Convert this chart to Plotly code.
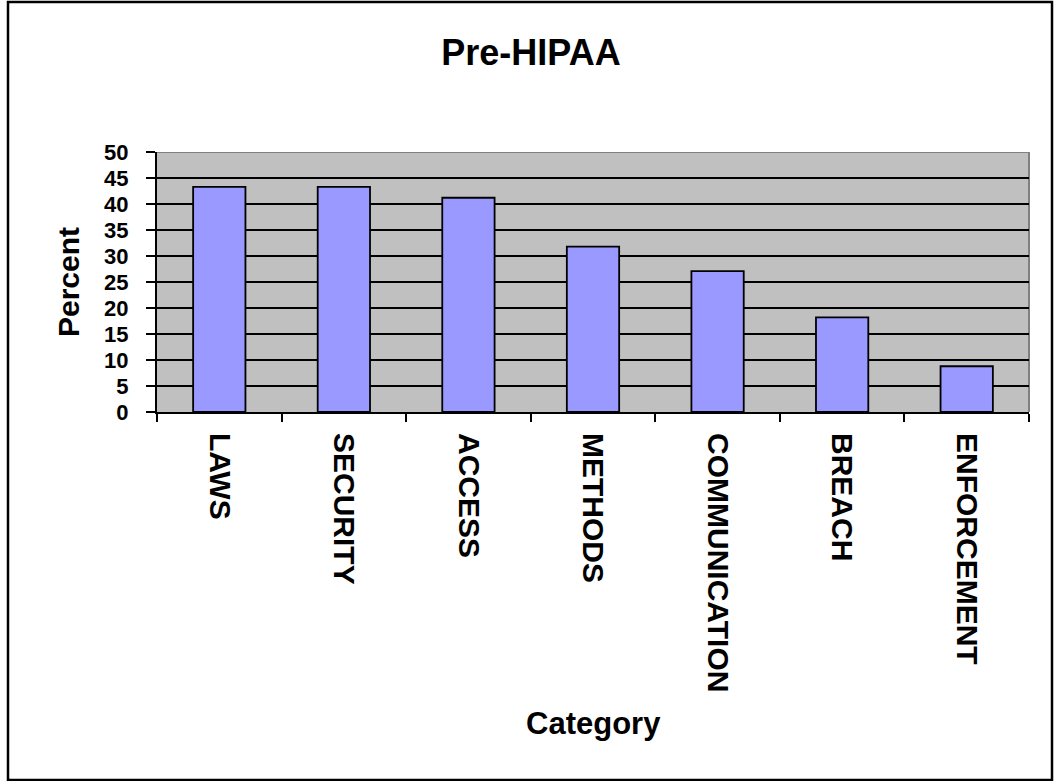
import plotly.graph_objects as go

# Survey results, Pre-HIPAA
categories = ["LAWS", "SECURITY", "ACCESS", "METHODS",
              "COMMUNICATION", "BREACH", "ENFORCEMENT"]
percent = [43.3, 43.3, 41.2, 31.8, 27.1, 18.2, 8.8]
y_ticks = [0, 5, 10, 15, 20, 25, 30, 35, 40, 45, 50]

W, H = 1054, 781
# plot-area edges in pixels
L, R, T, B = 157, 1029, 152, 412
PW, PH = R - L, B - T


def px_x(x):
    return (x - L) / PW


def px_y(y):
    return (B - y) / PH


FONT = "Liberation Sans, Arial, sans-serif"

fig = go.Figure(
    go.Bar(
        x=categories,
        y=percent,
        marker=dict(color="#9999FF", line=dict(color="black", width=1.8)),
        showlegend=False,
    )
)

fig.update_layout(
    width=W,
    height=H,
    margin=dict(l=L, r=W - R, t=T, b=H - B, pad=0),
    paper_bgcolor="white",
    plot_bgcolor="#C0C0C0",
    bargap=0.58,
    title=dict(
        text="Pre-HIPAA",
        x=531 / W, xref="container", xanchor="center",
        y=1 - 52 / H, yref="container", yanchor="middle",
        font=dict(family=FONT, size=36, color="black", weight="bold"),
    ),
    xaxis=dict(
        type="category",
        showline=True, linecolor="black", linewidth=2,
        ticks="outside", tickson="boundaries", ticklen=8,
        tickwidth=2, tickcolor="black",
        tickangle=90,
        ticklabelstandoff=13,
        tickfont=dict(family=FONT, size=30, color="black", weight="bold"),
        showgrid=False,
    ),
    yaxis=dict(
        range=[0, 50],
        tickvals=y_ticks,
        ticktext=[str(v) for v in y_ticks],
        showline=True, linecolor="black", linewidth=2,
        ticks="outside", ticklen=9, tickwidth=2, tickcolor="black",
        ticklabelstandoff=13,
        tickfont=dict(family=FONT, size=22, color="black", weight="bold"),
        showgrid=True, gridcolor="black", gridwidth=1.6,
        zeroline=False,
    ),
    annotations=[
        dict(text="Percent", xref="paper", yref="paper",
             x=px_x(68), y=0.5, xanchor="center", yanchor="middle",
             textangle=-90, showarrow=False,
             font=dict(family=FONT, size=30, color="black", weight="bold")),
        dict(text="Category", xref="paper", yref="paper",
             x=0.5, y=px_y(723), xanchor="center", yanchor="middle",
             showarrow=False,
             font=dict(family=FONT, size=31, color="black", weight="bold")),
    ],
    shapes=[
        # top and right edges of the plot area
        dict(type="line", xref="paper", yref="y", x0=0, x1=1, y0=50, y1=50,
             line=dict(color="#808080", width=2), layer="between"),
        dict(type="line", xref="paper", yref="paper", x0=1, x1=1, y0=0, y1=1,
             line=dict(color="#808080", width=2), layer="between"),
        # outer chart frame
        dict(type="rect", xref="paper", yref="paper",
             x0=px_x(8), x1=px_x(1052), y0=px_y(780), y1=px_y(2),
             line=dict(color="black", width=2.5), layer="above"),
    ],
)

fig.write_html("out.html")
